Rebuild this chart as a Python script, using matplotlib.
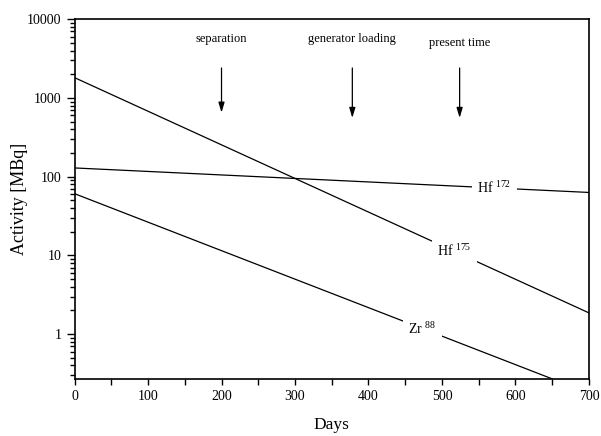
import matplotlib
matplotlib.use('Agg')
import matplotlib.pyplot as plt
from matplotlib.ticker import LogLocator, FixedLocator, NullFormatter

plt.rcParams['font.family'] = ['Liberation Serif', 'DejaVu Serif']
plt.rcParams['mathtext.fontset'] = 'custom'
plt.rcParams['mathtext.rm'] = 'Liberation Serif'

# decay lines (straight in log space)
hf172_days = [0, 700]
hf172_act = [129, 63]
hf175_days = [0, 700]
hf175_act = [1810, 1.86]
zr88_days = [0, 650]
zr88_act = [60.8, 0.27]

# labels sitting on the lines
line_labels = [r'Hf $^{172}$', r'Hf $^{175}$', r'Zr $^{88}$']
label_x = [571, 517, 473]
label_y = [73, 11.5, 1.18]

# event markers
event_names = ['separation', 'generator loading', 'present time']
event_days = [200, 378, 524]
event_text_y = [5600, 5600, 5000]
arrow_top = [2400, 2400, 2400]
arrow_tip = [650, 557, 557]

fig = plt.figure(figsize=(6.01, 4.36), dpi=100)
ax = fig.add_axes([0.124, 0.131, 0.856, 0.825])

for d, a in [(hf172_days, hf172_act), (hf175_days, hf175_act), (zr88_days, zr88_act)]:
    ax.plot(d, a, color='black', lw=0.9)

for txt, x, y in zip(line_labels, label_x, label_y):
    ax.text(x, y, txt, fontsize=10, ha='center', va='center',
            bbox=dict(facecolor='white', edgecolor='none', pad=4))

for name, x, ty, top, tip in zip(event_names, event_days, event_text_y, arrow_top, arrow_tip):
    ax.text(x, ty, name, fontsize=9, ha='center', va='center')
    ax.annotate('', xy=(x, tip), xytext=(x, top),
                arrowprops=dict(arrowstyle='-|>,head_width=0.18,head_length=0.6',
                                color='black', lw=0.9, mutation_scale=10,
                                shrinkA=0, shrinkB=0))

ax.set_yscale('log')
ax.set_xlim(0, 700)
ax.set_ylim(0.27, 10000)
ax.set_yticks([1, 10, 100, 1000, 10000])
ax.set_yticklabels(['1', '10', '100', '1000', '10000'])
ax.yaxis.set_minor_locator(LogLocator(base=10, subs=range(2, 10)))
ax.yaxis.set_minor_formatter(NullFormatter())
ax.set_xticks(range(0, 701, 100))
ax.xaxis.set_minor_locator(FixedLocator(range(50, 700, 100)))

for s in ax.spines.values():
    s.set_linewidth(1.2)
ax.tick_params(which='both', direction='out', width=1, labelsize=10)
ax.tick_params(axis='x', which='both', length=4.5)
ax.tick_params(axis='y', which='major', length=6)
ax.tick_params(axis='y', which='minor', length=3.5)

ax.set_xlabel('Days', fontsize=12.5, labelpad=10)
ax.set_ylabel('Activity [MBq]', fontsize=13, labelpad=-1)

fig.savefig('out.png', dpi=100)
